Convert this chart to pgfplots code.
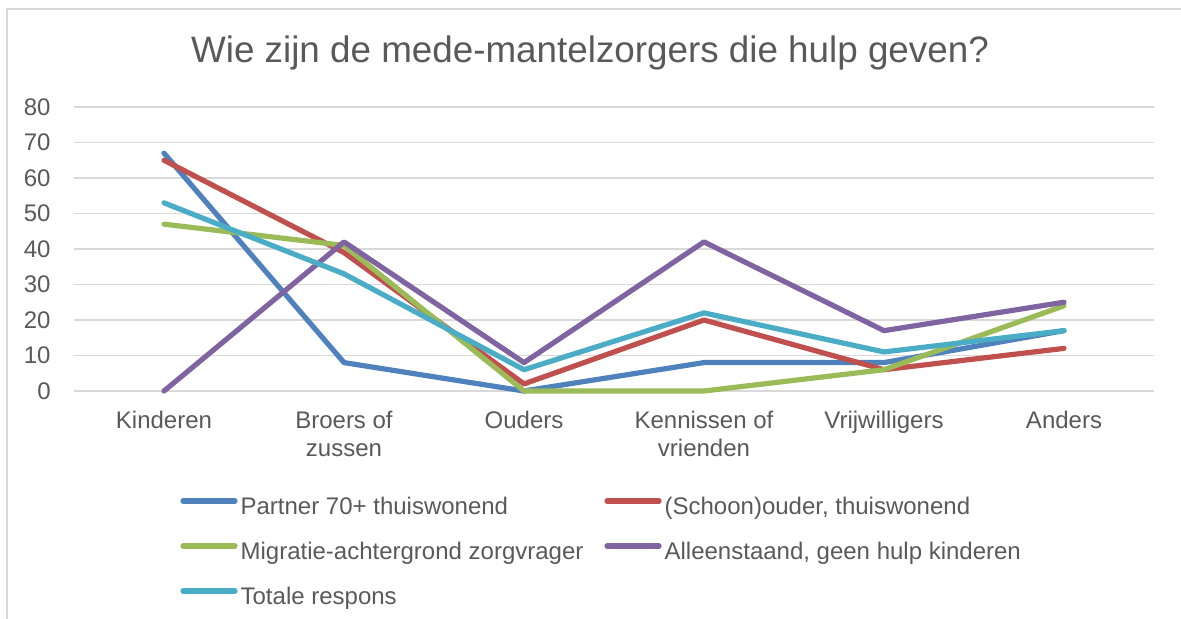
\documentclass[border=0pt]{standalone}
\usepackage{fontspec}
\setmainfont{Liberation Sans}
\usepackage{pgfplots}
\pgfplotsset{compat=1.18}
\definecolor{txt}{HTML}{595959}
\definecolor{gridc}{HTML}{D9D9D9}
\definecolor{cBlue}{HTML}{4F81BD}
\definecolor{cRed}{HTML}{C0504D}
\definecolor{cGreen}{HTML}{9BBB59}
\definecolor{cPurple}{HTML}{8064A2}
\definecolor{cTeal}{HTML}{4BACC6}
\tikzset{
  serie/.style={line width=2.6pt, line cap=round, line join=round},
}
\begin{document}
\begin{tikzpicture}
\path[use as bounding box] (0,0) rectangle (590.5pt,309.5pt);
% chart frame (only top and left visible)
\draw[gridc, line width=0.8pt] (3.5pt,0) -- (3.5pt,305pt) -- (590.5pt,305pt);
\node[anchor=base, text=txt, font=\fontsize{18.4}{22}\selectfont]
  at (295pt,278pt) {Wie zijn de mede-mantelzorgers die hulp geven?};
\begin{axis}[
  at={(37pt,114pt)}, anchor=south west,
  scale only axis, width=540pt, height=142pt,
  xmin=-0.5, xmax=5.5, ymin=0, ymax=80,
  xtick={0,...,5}, ytick={0,10,...,80},
  xticklabels={Kinderen, {Broers of\\zussen}, Ouders, {Kennissen of\\vrienden}, Vrijwilligers, Anders},
  axis line style={draw=none},
  major tick length=0pt,
  ymajorgrids, major grid style={gridc, line width=0.8pt},
  /pgf/number format/assume math mode=true,
  ticklabel style={font=\fontsize{12}{14}\selectfont, text=txt},
  yticklabel style={anchor=east, inner sep=0pt, xshift=-11.5pt},
  xticklabel style={anchor=north, align=center, inner sep=0pt, yshift=-10pt},
  clip=false,
  legend columns=2,
  legend style={at={(0.0926,-0.356)}, anchor=north west, draw=none, fill=none,
    font=\fontsize{12}{14}\selectfont, text=txt,
    nodes={inner sep=0pt, text height=9pt, text depth=2.5pt},
    column sep=0pt, row sep=11pt,
    /tikz/column 2/.style={column sep=10.5pt}},
  legend image code/.code={\draw[#1] (0pt,3.5pt) -- (26pt,3.5pt);},
  legend cell align=left,
]
\addplot[serie, cBlue] coordinates {(0,67) (1,8) (2,0) (3,8) (4,8) (5,17)};
\addlegendentry{\hspace{1.5pt}Partner 70+ thuiswonend}
\addplot[serie, cRed] coordinates {(0,65) (1,39) (2,2) (3,20) (4,6) (5,12)};
\addlegendentry{\hspace{1.5pt}(Schoon)ouder, thuiswonend}
\addplot[serie, cGreen] coordinates {(0,47) (1,41) (2,0) (3,0) (4,6) (5,24)};
\addlegendentry{\hspace{1.5pt}Migratie-achtergrond zorgvrager}
\addplot[serie, cPurple] coordinates {(0,0) (1,42) (2,8) (3,42) (4,17) (5,25)};
\addlegendentry{\hspace{1.5pt}Alleenstaand, geen hulp kinderen}
\addplot[serie, cTeal] coordinates {(0,53) (1,33) (2,6) (3,22) (4,11) (5,17)};
\addlegendentry{\hspace{1.5pt}Totale respons}
\end{axis}
\end{tikzpicture}
\end{document}
